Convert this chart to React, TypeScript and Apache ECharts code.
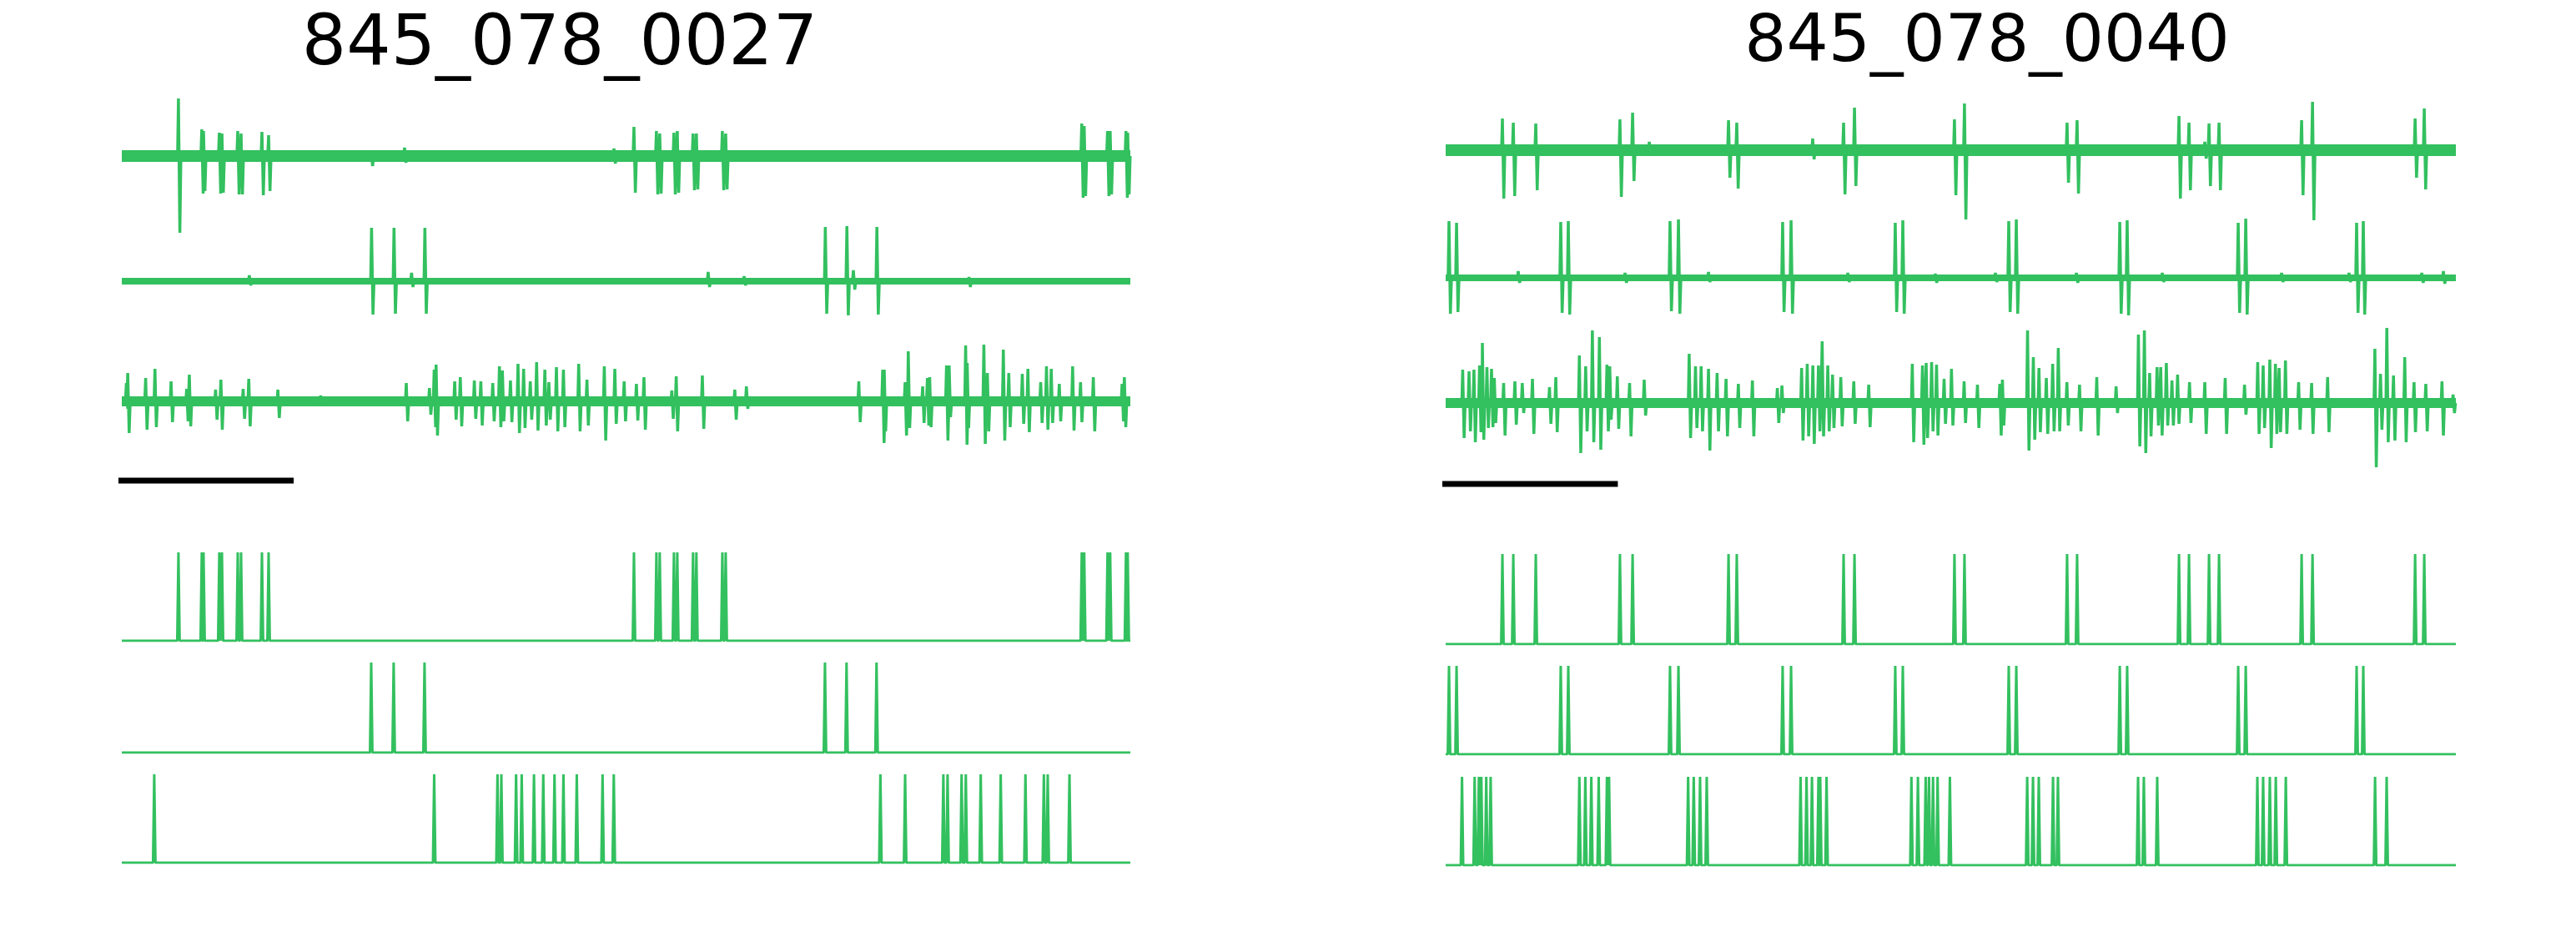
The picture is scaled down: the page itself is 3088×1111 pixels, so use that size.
import React, { useEffect, useRef } from 'react';
import * as echarts from 'echarts';

// ---------------- data ----------------
const TRACE_SECONDS = 5.75;
const SCALE_BAR = [-0.02, 0.98]; // 1 s scale bar
const TITLES = ['845_078_0027', '845_078_0040'];

// raw spikes: [time (s), positive peak, negative peak] (a.u.)
const L_RAW_1 = [
  [0.323, 69, 92], [0.456, 32, 45], [0.466, 30, 42], [0.556, 28, 45], [0.571, 27, 44], [0.661, 30, 46], [0.68, 27, 46],
  [0.799, 29, 47], [0.837, 25, 42], [1.422, 4, 12], [1.612, 10, 8], [2.806, 9, 9], [2.92, 35, 44], [3.048, 30, 46],
  [3.067, 27, 45], [3.148, 28, 46], [3.167, 30, 44], [3.257, 27, 41], [3.276, 27, 40], [3.424, 30, 41], [3.443, 27, 40],
  [5.473, 39, 50], [5.487, 36, 48], [5.62, 30, 48], [5.635, 30, 46], [5.725, 30, 50], [5.735, 28, 46],
];
const L_RAW_2 = [
  [0.727, 7, 5], [1.424, 64, 40], [1.552, 64, 39], [1.652, 10, 7], [1.728, 64, 39], [3.343, 11, 7], [3.548, 6, 5],
  [4.011, 65, 39], [4.134, 66, 41], [4.171, 13, 10], [4.305, 65, 40], [4.83, 5, 7],
];
const L_RAW_3 = [
  [0.026, 22, 9], [0.034, 34, 38], [0.136, 28, 34], [0.189, 39, 31], [0.281, 24, 25], [0.37, 15, 24], [0.385, 32, 30],
  [0.535, 14, 22], [0.565, 26, 34], [0.692, 15, 21], [0.724, 27, 30], [0.89, 14, 20], [1.134, 7, 4], [1.622, 22, 24],
  [1.754, 16, 16], [1.781, 38, 31], [1.792, 44, 41], [1.898, 24, 22], [1.93, 29, 30], [2.01, 25, 21], [2.047, 24, 29],
  [2.115, 22, 24], [2.153, 42, 31], [2.17, 37, 24], [2.216, 25, 25], [2.259, 45, 38], [2.291, 39, 32], [2.329, 24, 22],
  [2.365, 47, 35], [2.412, 38, 29], [2.435, 23, 22], [2.478, 41, 36], [2.518, 38, 31], [2.605, 45, 36], [2.652, 26, 29],
  [2.751, 42, 47], [2.811, 39, 27], [2.864, 24, 24], [2.934, 21, 23], [2.977, 29, 34], [3.136, 13, 21], [3.161, 30, 36],
  [3.31, 31, 33], [3.495, 14, 22], [3.561, 18, 9], [4.202, 24, 25], [4.338, 38, 50], [4.347, 38, 36], [4.466, 23, 41],
  [4.484, 60, 32], [4.566, 18, 26], [4.593, 28, 29], [4.606, 29, 31], [4.702, 43, 47], [4.717, 43, 19], [4.811, 67, 52],
  [4.82, 46, 32], [4.915, 68, 51], [4.935, 34, 36], [5.026, 62, 47], [5.057, 34, 31], [5.134, 33, 27], [5.166, 39, 37],
  [5.239, 23, 26], [5.272, 42, 34], [5.299, 39, 26], [5.345, 21, 24], [5.421, 42, 35], [5.466, 23, 25], [5.539, 29, 36],
  [5.703, 21, 24], [5.716, 29, 31],
];
const R_RAW_1 = [
  [0.323, 38, 58], [0.385, 33, 55], [0.513, 32, 48], [0.992, 37, 56], [1.064, 45, 37], [1.159, 10, 4], [1.61, 36, 33],
  [1.657, 33, 46], [2.089, 14, 11], [2.265, 33, 53], [2.327, 51, 43], [2.896, 37, 54], [2.953, 56, 83], [3.537, 33, 39],
  [3.594, 36, 52], [4.174, 41, 58], [4.231, 33, 48], [4.321, 10, 10], [4.345, 32, 43], [4.402, 33, 48], [4.872, 36, 54],
  [4.934, 58, 84], [5.518, 38, 33], [5.57, 50, 47],
];
const R_RAW_2 = [
  [0.019, 68, 43], [0.062, 66, 41], [0.413, 8, 6], [0.655, 67, 42], [0.698, 68, 44], [1.021, 6, 6], [1.277, 68, 40],
  [1.325, 70, 43], [1.496, 7, 5], [1.918, 67, 41], [1.966, 69, 43], [2.289, 6, 5], [2.559, 66, 41], [2.602, 69, 43],
  [2.787, 5, 6], [3.129, 6, 5], [3.205, 68, 41], [3.248, 70, 43], [3.59, 6, 6], [3.837, 67, 43], [3.879, 69, 45],
  [4.079, 6, 5], [4.511, 66, 42], [4.554, 71, 44], [4.758, 6, 5], [5.142, 6, 5], [5.185, 66, 42], [5.223, 68, 44],
  [5.556, 6, 6], [5.679, 8, 7],
];
const R_RAW_3 = [
  [0.097, 40, 42], [0.133, 38, 34], [0.161, 40, 47], [0.193, 45, 35], [0.209, 72, 44], [0.235, 43, 30], [0.261, 41, 29],
  [0.277, 30, 24], [0.33, 24, 39], [0.394, 26, 26], [0.436, 24, 12], [0.494, 29, 37], [0.591, 19, 25], [0.627, 31, 35],
  [0.761, 57, 60], [0.797, 44, 34], [0.835, 87, 47], [0.875, 79, 56], [0.918, 46, 34], [0.934, 44, 20], [0.977, 32, 31],
  [1.047, 24, 40], [1.13, 28, 15], [1.386, 59, 42], [1.422, 44, 30], [1.454, 44, 34], [1.496, 41, 57], [1.545, 36, 34],
  [1.596, 29, 40], [1.666, 23, 30], [1.746, 27, 40], [1.888, 18, 24], [1.914, 21, 12], [2.026, 42, 45], [2.058, 47, 40],
  [2.09, 45, 49], [2.122, 45, 34], [2.143, 74, 40], [2.175, 45, 34], [2.202, 34, 30], [2.249, 31, 28], [2.323, 26, 25],
  [2.408, 22, 29], [2.656, 47, 47], [2.714, 45, 50], [2.735, 48, 42], [2.766, 49, 34], [2.794, 46, 39], [2.837, 29, 25],
  [2.879, 41, 27], [2.951, 26, 24], [3.027, 22, 30], [3.154, 23, 39], [3.169, 28, 27], [3.312, 87, 57], [3.345, 55, 44],
  [3.377, 42, 35], [3.419, 30, 37], [3.455, 47, 34], [3.487, 66, 34], [3.536, 25, 27], [3.608, 22, 34], [3.706, 31, 39],
  [3.816, 20, 12], [3.943, 82, 52], [3.977, 87, 60], [4.007, 36, 40], [4.049, 43, 27], [4.07, 43, 39], [4.102, 48, 27],
  [4.134, 27, 27], [4.166, 34, 25], [4.234, 25, 24], [4.321, 25, 37], [4.437, 30, 37], [4.547, 22, 14], [4.622, 49, 37],
  [4.653, 45, 30], [4.691, 52, 54], [4.723, 47, 37], [4.744, 42, 35], [4.78, 51, 37], [4.855, 25, 32], [4.929, 24, 37],
  [5.02, 31, 35], [5.289, 65, 77], [5.321, 35, 32], [5.357, 90, 47], [5.395, 33, 45], [5.459, 55, 47], [5.512, 25, 35],
  [5.579, 23, 34], [5.671, 26, 39], [5.734, 10, 12],
];

// half-width of the background noise band (a.u.)
const L_NOISE = [7, 4, 6];
const R_NOISE = [7, 4, 6];

// detected spike times (s)
const L_EVENTS_1 = [0.323, 0.456, 0.466, 0.556, 0.571, 0.661, 0.68, 0.799, 0.837, 2.92, 3.048, 3.067, 3.148, 3.167, 3.257, 3.276, 3.424, 3.443, 5.473, 5.487, 5.62, 5.635, 5.725, 5.735];
const L_EVENTS_2 = [1.422, 1.55, 1.726, 4.009, 4.132, 4.303];
const L_EVENTS_3 = [0.185, 1.781, 2.142, 2.164, 2.248, 2.28, 2.35, 2.403, 2.467, 2.518, 2.594, 2.741, 2.805, 4.325, 4.466, 4.684, 4.708, 4.788, 4.812, 4.897, 5.011, 5.152, 5.257, 5.279, 5.403];
const R_EVENTS_1 = [0.323, 0.385, 0.513, 0.992, 1.064, 1.61, 1.657, 2.265, 2.327, 2.896, 2.953, 3.537, 3.594, 4.174, 4.231, 4.345, 4.402, 4.872, 4.934, 5.518, 5.57];
const R_EVENTS_2 = [0.019, 0.062, 0.655, 0.698, 1.277, 1.325, 1.918, 1.966, 2.559, 2.602, 3.205, 3.248, 3.837, 3.879, 4.511, 4.554, 5.185, 5.223];
const R_EVENTS_3 = [0.093, 0.165, 0.189, 0.203, 0.231, 0.256, 0.761, 0.795, 0.829, 0.871, 0.918, 0.93, 1.38, 1.412, 1.448, 1.486, 2.02, 2.054, 2.085, 2.122, 2.132, 2.168, 2.651, 2.688, 2.732, 2.751, 2.774, 2.8, 2.87, 3.31, 3.343, 3.376, 3.457, 3.485, 3.941, 3.974, 4.05, 4.62, 4.653, 4.691, 4.725, 4.782, 5.29, 5.356];

// ---------------- layout & style ----------------
const GREEN = '#33c05f';
const PANELS = [
  {
    left: 146, width: 1209,
    raw: [L_RAW_1, L_RAW_2, L_RAW_3], noise: L_NOISE, events: [L_EVENTS_1, L_EVENTS_2, L_EVENTS_3],
    rawCenters: [187, 337, 481], rasterRows: [[662, 768], [794, 902], [928, 1034]], barY: 576,
    title: TITLES[0], titleX: 671, titleY: 48, titleSize: 84,
  },
  {
    left: 1733, width: 1211,
    raw: [R_RAW_1, R_RAW_2, R_RAW_3], noise: R_NOISE, events: [R_EVENTS_1, R_EVENTS_2, R_EVENTS_3],
    rawCenters: [180, 333, 483], rasterRows: [[664, 772], [798, 904], [931, 1037]], barY: 580,
    title: TITLES[1], titleX: 2382, titleY: 46, titleSize: 79,
  },
];

function rawLine(spikes: number[][]) {
  const sorted = [...spikes].sort((a, b) => a[0] - b[0]);
  const pts: number[][] = [[0, 0]];
  for (const [t, up, down] of sorted) {
    pts.push([t - 0.005, 0], [t, up], [t + 0.008, -down], [t + 0.014, 0]);
  }
  pts.push([TRACE_SECONDS, 0]);
  return pts;
}

function rasterLine(events: number[]) {
  const pts: number[][] = [[0, 0]];
  for (const t of events) pts.push([t - 0.007, 0], [t, 1], [t + 0.007, 0]);
  pts.push([TRACE_SECONDS, 0]);
  return pts;
}

function buildOption() {
  const grid: any[] = [];
  const xAxis: any[] = [];
  const yAxis: any[] = [];
  const series: any[] = [];
  const graphic: any[] = [];

  const addGrid = (left: number, width: number, top: number, height: number, ymin: number, ymax: number) => {
    const idx = grid.length;
    grid.push({ left, width, top, height, containLabel: false });
    xAxis.push({ type: 'value', gridIndex: idx, min: 0, max: TRACE_SECONDS, show: false });
    yAxis.push({ type: 'value', gridIndex: idx, min: ymin, max: ymax, show: false });
    return idx;
  };

  PANELS.forEach((p) => {
    p.raw.forEach((spikes, i) => {
      const c = p.rawCenters[i];
      const idx = addGrid(p.left, p.width, c - 100, 200, -100, 100);
      const n = p.noise[i];
      series.push({
        type: 'line', xAxisIndex: idx, yAxisIndex: idx, data: rawLine(spikes),
        showSymbol: false, symbol: 'none', silent: true,
        lineStyle: { color: GREEN, width: 3.5, join: 'bevel' },
        markArea: {
          silent: true, label: { show: false },
          itemStyle: { color: GREEN, opacity: 1 },
          data: [[{ coord: [0, -n] }, { coord: [TRACE_SECONDS, n] }]],
        },
      });
    });
    p.events.forEach((ev, i) => {
      const [top, bottom] = p.rasterRows[i];
      const idx = addGrid(p.left, p.width, top, bottom - top, 0, 1);
      series.push({
        type: 'line', xAxisIndex: idx, yAxisIndex: idx, data: rasterLine(ev),
        showSymbol: false, symbol: 'none', silent: true,
        lineStyle: { color: GREEN, width: 3, join: 'bevel' },
      });
    });
    const bIdx = addGrid(p.left, p.width, p.barY - 10, 20, -1, 1);
    series.push({
      type: 'line', xAxisIndex: bIdx, yAxisIndex: bIdx, clip: false,
      data: [[SCALE_BAR[0], 0], [SCALE_BAR[1], 0]],
      showSymbol: false, symbol: 'none', silent: true,
      lineStyle: { color: '#000', width: 7, cap: 'butt' },
    });
    graphic.push({
      type: 'text', x: p.titleX, y: p.titleY,
      style: {
        text: p.title, fontSize: p.titleSize, fontFamily: 'DejaVu Sans', fill: '#000',
        align: 'center', verticalAlign: 'middle',
      },
    });
  });

  return { animation: false, backgroundColor: '#fff', grid, xAxis, yAxis, series, graphic };
}

export default function App() {
  const ref = useRef<HTMLDivElement>(null);
  useEffect(() => {
    document.body.style.margin = '0';
    const chart = echarts.init(ref.current as HTMLDivElement, null, { renderer: 'svg' });
    chart.setOption(buildOption());
    return () => chart.dispose();
  }, []);
  return <div ref={ref} style={{ width: 3088, height: 1111 }} />;
}
